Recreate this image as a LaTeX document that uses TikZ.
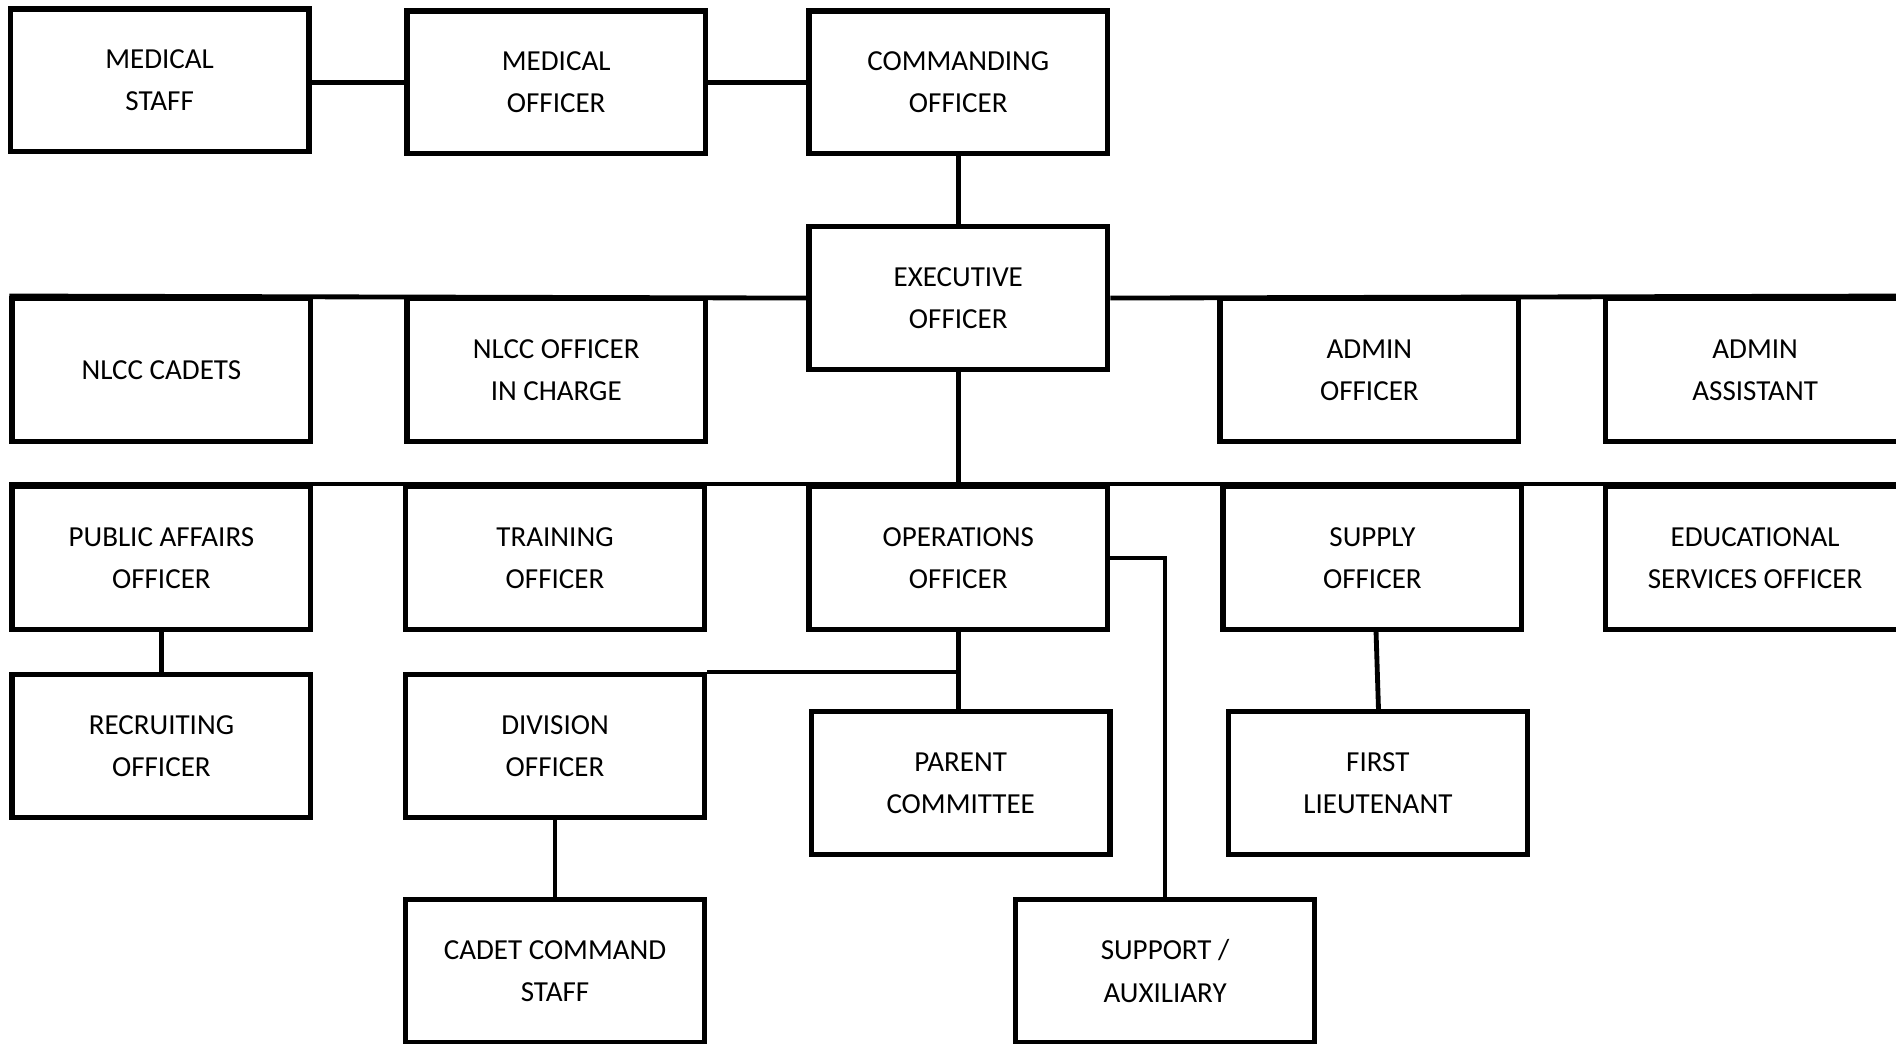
\documentclass[tikz,border=0pt]{standalone}
\usepackage{fontspec}
\setmainfont{Carlito}
\begin{document}
\begin{tikzpicture}[x=0.5pt,y=-0.5pt,
  box/.style={draw=black, line width=2.2pt, fill=white, minimum width=123.5pt, minimum height=59pt,
    align=center, inner sep=0pt, font=\fontsize{12}{17.4}\selectfont},
  link/.style={draw=black, line width=2pt}]
\clip (0,0) rectangle (1568,863);
\fill[white] (0,0) rectangle (1568,863);
% nodes
\node[box] (MS) at (132,66.5) {MEDICAL\\STAFF};
\node[box] (MO) at (460,68) {MEDICAL\\OFFICER};
\node[box] (CO) at (792.5,68) {COMMANDING\\OFFICER};
\node[box] (XO) at (792.5,246.5) {EXECUTIVE\\OFFICER};
\node[box] (NC) at (133.5,306) {NLCC CADETS};
\node[box] (NO) at (460,306) {NLCC OFFICER\\IN CHARGE};
\node[box] (AO) at (1132.5,306) {ADMIN\\OFFICER};
\node[box] (AA) at (1451.5,306) {ADMIN\\ASSISTANT};
\node[box] (PA) at (133.5,461.5) {PUBLIC AFFAIRS\\OFFICER};
\node[box] (TO) at (459,461.5) {TRAINING\\OFFICER};
\node[box] (OP) at (792.5,461.5) {OPERATIONS\\OFFICER};
\node[box] (SO) at (1135,461.5) {SUPPLY\\OFFICER};
\node[box] (ES) at (1451.5,461.5) {EDUCATIONAL\\SERVICES OFFICER};
\node[box] (RO) at (133.5,617) {RECRUITING\\OFFICER};
\node[box] (DO) at (459,617) {DIVISION\\OFFICER};
\node[box] (PC) at (794.5,647.5) {PARENT\\COMMITTEE};
\node[box] (FL) at (1139.5,647.5) {FIRST\\LIEUTENANT};
\node[box] (CC) at (459,803) {CADET COMMAND\\STAFF};
\node[box] (SA) at (963.5,803) {SUPPORT /\\AUXILIARY};
% connectors
\draw[link] (MO.west -| MS.east) -- (MO.west);
\draw[link] (MO.east) -- (CO.west);
\draw[link] (CO.south) -- (XO.north);
\draw[link] (NC.north west) -- (XO.west);
\draw[link] (XO.east) -- (AA.north east);
\draw[link] (XO.south) -- (XO.south |- OP.north);
\draw[link] (PA.north west) -- (ES.north east);
\draw[link] (PA.south) -- (RO.north);
\coordinate (j) at (OP.south |- DO.north);
\draw[link] (OP.south) -- (j) -- (DO.north east);
\draw[link] (j) -- (j |- PC.north);
\draw[link] (OP.east) -| (SA.north);
\draw[link] ([xshift=1.5pt]SO.south) -- ([xshift=0.25pt]FL.north);
\draw[link] (DO.south) -- (CC.north);
\end{tikzpicture}
\end{document}
